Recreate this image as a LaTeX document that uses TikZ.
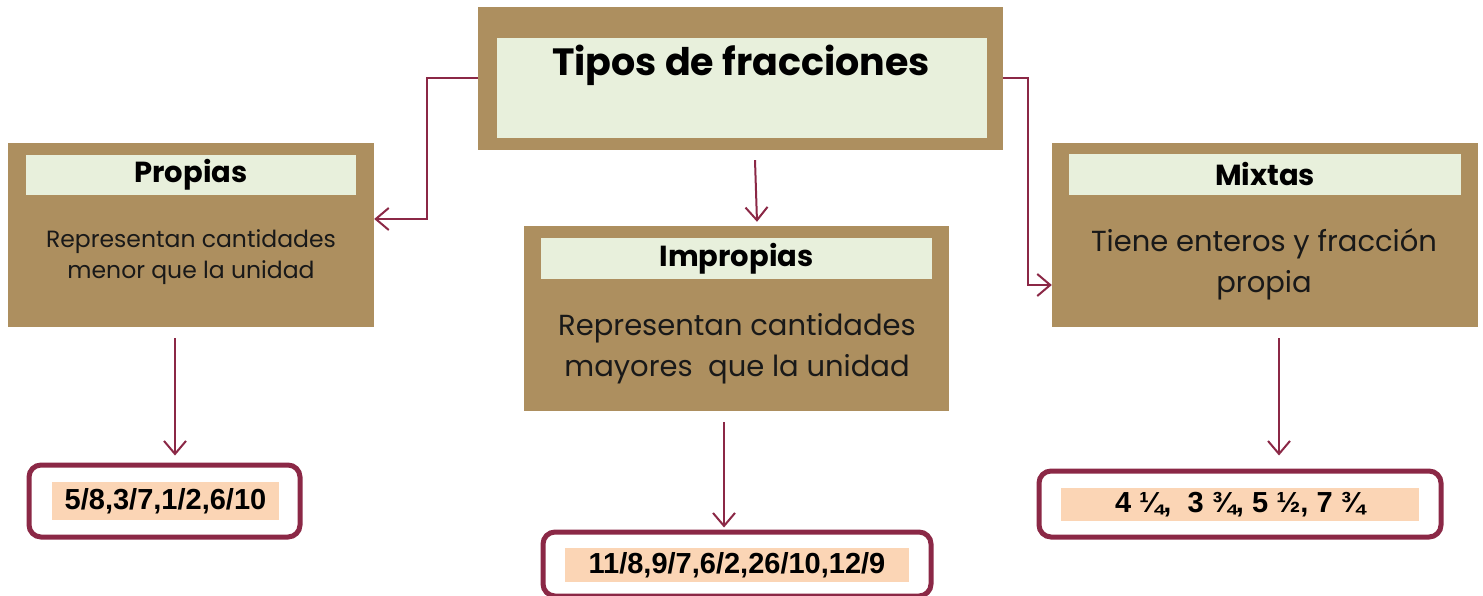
\documentclass[tikz,border=0pt]{standalone}
\usepackage{fontspec}
\setmainfont{Poppins}
\newfontfamily\numfont{Liberation Sans}
\usetikzlibrary{arrows.meta}

\definecolor{tan}{RGB}{173,143,95}
\definecolor{paleg}{RGB}{232,240,220}
\definecolor{peach}{RGB}{251,213,181}
\definecolor{maroon}{RGB}{139,40,70}

\tikzset{
  tanbox/.style={fill=tan, inner sep=0pt},
  headbox/.style={fill=paleg, inner sep=0pt, font=\fontsize{29}{32}\selectfont\bfseries},
  valbox/.style={draw=maroon, line width=5pt, rounded corners=12pt, fill=white, inner sep=0pt},
  peachbox/.style={fill=peach, inner sep=0pt, font=\numfont\fontsize{29}{32}\selectfont\bfseries},
  bodytext/.style={align=center, text=black!90, inner sep=0pt},
  link/.style={draw=maroon, line width=2pt, -{Straight Barb[length=13pt,width=22pt,line width=2pt]}},
}

\begin{document}
\begin{tikzpicture}[x=1pt,y=-1pt]
\useasboundingbox (0,0) rectangle (1483,596);

% main box
\node[tanbox, minimum width=525pt, minimum height=143pt] (tipos) at (740.5,78.5) {};
\node[headbox, minimum width=490pt, minimum height=100pt] (tiposh) at (742,88) {};
\node[inner sep=0pt, font=\fontsize{38}{42}\selectfont\bfseries] (tipost) at (741,65) {Tipos de fracciones};

% three kinds
\node[tanbox, minimum width=366pt, minimum height=184pt] (propias) at (191,235) {};
\node[headbox, minimum width=330pt, minimum height=40pt] (propiash) at (191,175) {Propias};
\node[bodytext, font=\fontsize{23.5}{31}\selectfont] (propiast) at (191,257) {Representan cantidades\\ menor que la unidad};

\node[tanbox, minimum width=425pt, minimum height=185pt] (impropias) at (736.5,318.5) {};
\node[headbox, minimum width=391pt, minimum height=41pt] (impropiash) at (736.5,258.5) {Impropias};
\node[bodytext, font=\fontsize{29}{41}\selectfont] (impropiast) at (737,349) {Representan cantidades\\ mayores\ \ que la unidad};

\node[tanbox, minimum width=426pt, minimum height=184pt] (mixtas) at (1265,235) {};
\node[headbox, minimum width=392pt, minimum height=41pt] (mixtash) at (1265,174.5) {Mixtas};
\node[bodytext, font=\fontsize{29}{41}\selectfont] (mixtast) at (1264,264) {Tiene enteros y fracción\\ propia};

% examples
\node[valbox, minimum width=271pt, minimum height=72pt] (vprop) at (164.5,501) {};
\node[peachbox, minimum width=227pt, minimum height=38pt] at (165.5,501) {5/8,3/7,1/2,6/10};

\node[valbox, minimum width=388pt, minimum height=64pt] (vimp) at (737,564) {};
\node[peachbox, minimum width=344pt, minimum height=34pt] at (737,565) {11/8,9/7,6/2,26/10,12/9};

\node[valbox, minimum width=402pt, minimum height=66pt] (vmix) at (1240,504) {};
\node[peachbox, minimum width=358pt, minimum height=33pt] at (1240,504.5) {4 ¼,\ \ 3 ¾, 5 ½, 7 ¾};

% connectors
\draw[link] (tipos.west) -- ++(-51,0) |- ([yshift=16pt]propias.east);
\draw[link] (tipos.east) -- ++(25,0) |- ([yshift=-50pt]mixtas.west);
\draw[link] ([xshift=14.5pt,yshift=-10pt]tipos.south) -- ([xshift=20.5pt,yshift=4pt]impropias.north);
\draw[link] ([xshift=-16pt,yshift=-11pt]propias.south) -- ([xshift=10.5pt,yshift=7pt]vprop.north);
\draw[link] ([xshift=-12.5pt,yshift=-11pt]impropias.south) -- ([xshift=-13pt,yshift=2pt]vimp.north);
\draw[link] ([xshift=14pt,yshift=-11pt]mixtas.south) -- ([xshift=39pt,yshift=13pt]vmix.north);
\end{tikzpicture}
\end{document}
